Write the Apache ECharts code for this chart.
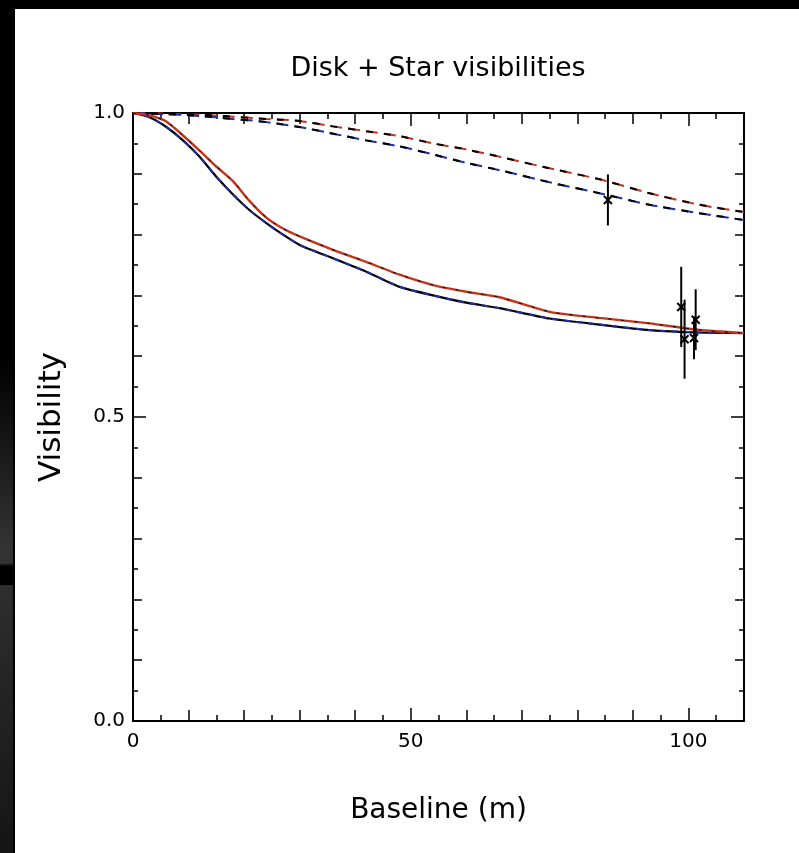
<!DOCTYPE html>
<html lang="en">
<head>
<meta charset="utf-8">
<title>Disk + Star visibilities</title>
<script src="https://cdn.jsdelivr.net/npm/echarts@6/dist/echarts.min.js"></script>
<style>
  html, body { margin: 0; padding: 0; background: #000; }
  body { width: 799px; height: 853px; position: relative; overflow: hidden; }
  .strip {
    position: absolute; left: 0; top: 0; width: 13px; height: 853px;
    background: linear-gradient(to bottom, #000 0%, #000 42%, #333 64%, #333 66%, #000 66.4%, #000 68.6%, #2e2e2e 68.6%, #151515 100%);
  }
  #chart { position: absolute; left: 15px; top: 9px; width: 784px; height: 844px; background: #fff; }
</style>
</head>
<body>
<div class="strip"></div>
<div id="chart"></div>
<script type="text/javascript">
  // baselines (m) shared by the four model curves
  let baseline = [0, 3, 6, 9, 12, 15, 18, 21, 24, 27, 30, 36, 42, 48, 54, 60, 66, 75, 84, 93, 102, 110];

  // solid curves
  let solidRed  = [1.000, 0.996, 0.986, 0.963, 0.938, 0.912, 0.888, 0.855, 0.828, 0.810, 0.797, 0.775, 0.755, 0.734, 0.717, 0.706, 0.697, 0.673, 0.663, 0.654, 0.643, 0.638];
  let solidBlue = [1.000, 0.993, 0.977, 0.955, 0.928, 0.895, 0.866, 0.840, 0.819, 0.800, 0.783, 0.761, 0.739, 0.714, 0.700, 0.688, 0.679, 0.662, 0.652, 0.643, 0.639, 0.638];

  // dashed curves
  let dashRed  = [1.000, 1.000, 0.999, 0.998, 0.997, 0.996, 0.994, 0.992, 0.990, 0.989, 0.987, 0.978, 0.970, 0.962, 0.950, 0.940, 0.928, 0.909, 0.891, 0.868, 0.849, 0.837];
  let dashBlue = [1.000, 0.999, 0.998, 0.997, 0.995, 0.993, 0.990, 0.988, 0.985, 0.981, 0.977, 0.966, 0.955, 0.945, 0.932, 0.918, 0.906, 0.886, 0.868, 0.849, 0.835, 0.824];

  // measured points with error bars
  let obsBaseline = [85.5, 98.7, 99.3, 101.3, 101.0];
  let obsVis      = [0.857, 0.681, 0.628, 0.660, 0.630];
  let obsErr      = [0.042, 0.066, 0.065, 0.050, 0.035];

  let xLabels = [0, 50, 100];
  let yLabels = [0, 0.5, 1.0];

  function pairs(ys) {
    return baseline.map((x, i) => [x, ys[i]]);
  }

  let obsData = obsBaseline.map((x, i) => [x, obsVis[i], obsErr[i]]);

  const RED = '#c4341c';
  const BLUE = '#1e2ea6';
  const FONT = 'DejaVu Sans';

  function lineSeries(name, data, color, width, dash, z) {
    return {
      name: name, type: 'line', data: data, showSymbol: false, smooth: 0.2,
      xAxisIndex: 0, yAxisIndex: 0, z: z,
      lineStyle: { color: color, width: width, type: dash }
    };
  }

  function tickAxis(pos, interval, len, minorLen, showLine) {
    return {
      type: 'value', position: pos, min: 0, max: pos === 'left' || pos === 'right' ? 1 : 110,
      interval: interval,
      axisLine: { show: showLine, onZero: false, lineStyle: { color: '#000', width: 2 } },
      axisTick: { show: true, inside: true, length: len, lineStyle: { color: '#000', width: 1.5 } },
      minorTick: { show: minorLen > 0, splitNumber: 2, length: minorLen, lineStyle: { color: '#000', width: 1.5 } },
      axisLabel: { show: false },
      splitLine: { show: false }
    };
  }

  let Chart = echarts.init(document.getElementById('chart'));

  let xMain = tickAxis('bottom', 10, 11, 6, true);
  let xLab = tickAxis('bottom', 50, 13, 0, false);
  xLab.axisLabel = {
    show: true, margin: 11, color: '#000', fontFamily: FONT, fontSize: 20, showMaxLabel: false,
    formatter: (v) => xLabels.indexOf(v) > -1 ? String(v) : ''
  };
  xLab.name = 'Baseline (m)';
  xLab.nameLocation = 'middle';
  xLab.nameGap = 76;
  xLab.nameTextStyle = { color: '#000', fontFamily: FONT, fontSize: 28 };

  let yMain = tickAxis('left', 0.1, 9, 5, true);
  let yLab = tickAxis('left', 0.5, 13, 0, false);
  yLab.axisLabel = {
    show: true, margin: 8, color: '#000', fontFamily: FONT, fontSize: 20,
    formatter: (v) => yLabels.indexOf(v) > -1 ? v.toFixed(1) : ''
  };
  yLab.name = 'Visibility';
  yLab.nameLocation = 'middle';
  yLab.nameRotate = 90;
  yLab.nameGap = 66;
  yLab.nameTextStyle = { color: '#000', fontFamily: FONT, fontSize: 31 };

  let option = {
    animation: false,
    backgroundColor: '#fff',
    title: {
      text: 'Disk + Star visibilities',
      left: 423, top: 46, padding: 0, textAlign: 'center',
      textStyle: { color: '#000', fontFamily: FONT, fontSize: 27, fontWeight: 'normal' }
    },
    grid: { left: 118, top: 104, width: 611, height: 608 },
    xAxis: [xMain, xLab, tickAxis('top', 10, 11, 6, true), tickAxis('top', 50, 13, 0, false)],
    yAxis: [yMain, yLab, tickAxis('right', 0.1, 9, 5, true), tickAxis('right', 0.5, 13, 0, false)],
    series: [
      // dashed pair: coloured dash with black head
      lineSeries('dashRed', pairs(dashRed), RED, 2, [12, 6], 3),
      lineSeries('dashRedK', pairs(dashRed), '#000', 2, [7, 11], 4),
      lineSeries('dashBlue', pairs(dashBlue), BLUE, 2, [12, 6], 3),
      lineSeries('dashBlueK', pairs(dashBlue), '#000', 2, [7, 11], 4),
      // solid pair
      lineSeries('solidBlueK', pairs(solidBlue), '#000', 2.2, 'solid', 3),
      lineSeries('solidBlue', pairs(solidBlue), BLUE, 2, [6, 6], 4),
      lineSeries('solidRed', pairs(solidRed), RED, 2.4, 'solid', 5),
      lineSeries('solidRedK', pairs(solidRed), '#000', 1, [3, 10], 6),
      {
        name: 'obs', type: 'custom', xAxisIndex: 0, yAxisIndex: 0, z: 10,
        data: obsData,
        renderItem: (params, api) => {
          let x = api.value(0), v = api.value(1), e = api.value(2);
          let top = api.coord([x, v + e]);
          let bot = api.coord([x, v - e]);
          let c = api.coord([x, v]);
          let s = 4;
          let st = { stroke: '#000', lineWidth: 2 };
          return {
            type: 'group',
            children: [
              { type: 'line', shape: { x1: top[0], y1: top[1], x2: bot[0], y2: bot[1] }, style: st },
              { type: 'line', shape: { x1: c[0] - s, y1: c[1] - s, x2: c[0] + s, y2: c[1] + s }, style: st },
              { type: 'line', shape: { x1: c[0] - s, y1: c[1] + s, x2: c[0] + s, y2: c[1] - s }, style: st }
            ]
          };
        }
      }
    ]
  };

  Chart.setOption(option);
</script>
</body>
</html>
